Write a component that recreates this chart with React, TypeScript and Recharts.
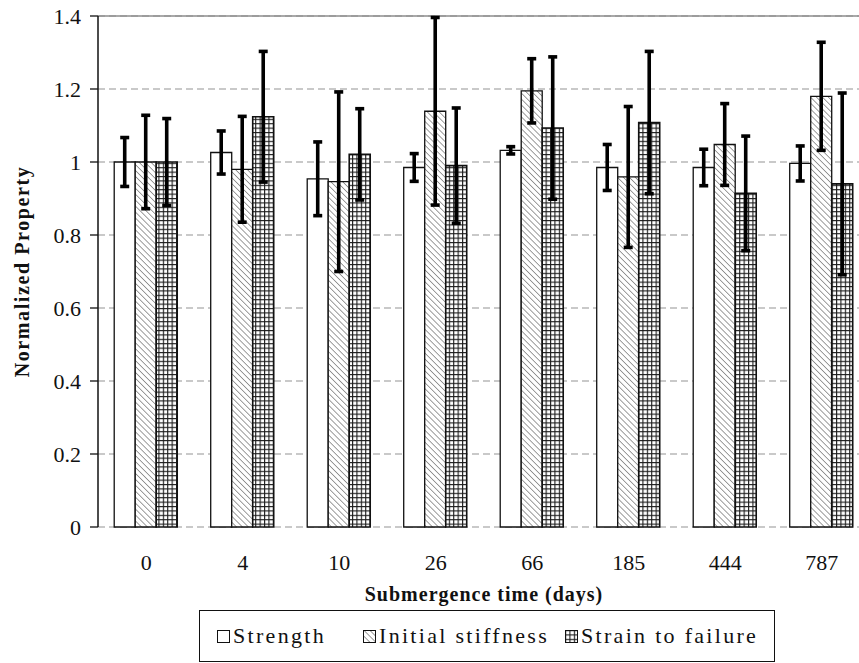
import {
  BarChart,
  Bar,
  XAxis,
  YAxis,
  CartesianGrid,
  ErrorBar,
  ReferenceLine,
  Legend,
  Label,
} from 'recharts'

const days = ['0', '4', '10', '26', '66', '185', '444', '787']
const strength = [1.0, 1.026, 0.954, 0.985, 1.032, 0.985, 0.985, 0.996]
const strengthErr = [0.067, 0.059, 0.101, 0.038, 0.01, 0.063, 0.05, 0.048]
const stiffness = [1.0, 0.98, 0.946, 1.139, 1.195, 0.959, 1.048, 1.18]
const stiffnessErr = [0.128, 0.145, 0.246, 0.257, 0.088, 0.193, 0.112, 0.148]
const strain = [1.0, 1.124, 1.021, 0.99, 1.093, 1.108, 0.914, 0.94]
const strainErr = [0.119, 0.179, 0.125, 0.158, 0.195, 0.195, 0.157, 0.249]
const yTicks = [0, 0.2, 0.4, 0.6, 0.8, 1, 1.2, 1.4]
const edgeTicks = [0, 1, 2, 3, 4, 5, 6, 7, 8]

const seriesNames = ['Strength', 'Initial stiffness', 'Strain to failure']

const data = days.map((day, i) => ({
  day,
  strength: strength[i],
  strengthErr: strengthErr[i],
  stiffness: stiffness[i],
  stiffnessErr: stiffnessErr[i],
  strain: strain[i],
  strainErr: strainErr[i],
}))

const serif = '"Liberation Serif", "Times New Roman", serif'
const ink = '#111'

function Patterns({ prefix }: { prefix: string }) {
  return (
    <defs>
      <pattern
        id={`${prefix}hatch`}
        patternUnits="userSpaceOnUse"
        width="4.2"
        height="4.2"
        patternTransform="rotate(-45)"
      >
        <rect width="4.2" height="4.2" fill="#fff" />
        <line x1="0" y1="0" x2="0" y2="4.2" stroke="#6a6a6a" strokeWidth="1.3" />
      </pattern>
      <pattern id={`${prefix}grid`} patternUnits="userSpaceOnUse" width="4.4" height="4.4">
        <rect width="4.4" height="4.4" fill="#fff" />
        <path d="M0 0.5 H4.4 M0.5 0 V4.4" stroke="#1a1a1a" strokeWidth="1.2" />
      </pattern>
    </defs>
  )
}

function YTitle(props: any) {
  const vb = props.viewBox || {}
  const cy = (vb.y ?? 16) + (vb.height ?? 511) / 2
  return (
    <text
      x={29}
      y={cy}
      transform={`rotate(-90, 29, ${cy})`}
      textAnchor="middle"
      fontFamily={serif}
      fontWeight="bold"
      fontSize={20}
      letterSpacing={1.6}
      fill={ink}
    >
      Normalized Property
    </text>
  )
}

function XTitle(props: any) {
  const vb = props.viewBox || {}
  const cx = (vb.x ?? 98) + (vb.width ?? 772) / 2
  return (
    <text
      x={cx}
      y={601}
      textAnchor="middle"
      fontFamily={serif}
      fontWeight="bold"
      fontSize={20}
      letterSpacing={1}
      fill={ink}
    >
      Submergence time (days)
    </text>
  )
}

function LegendBox() {
  const fills = ['#fff', 'url(#lghatch)', 'url(#lggrid)']
  const widths = [146, 202, undefined]
  return (
    <div
      style={{
        boxSizing: 'border-box',
        width: 576,
        height: 52,
        border: `1.5px solid ${ink}`,
        background: '#fff',
        display: 'flex',
        alignItems: 'center',
        paddingLeft: 17,
        fontFamily: serif,
        fontSize: 22,
        letterSpacing: 2.3,
        color: ink,
      }}
    >
      <svg width={0} height={0} style={{ position: 'absolute' }}>
        <Patterns prefix="lg" />
      </svg>
      {seriesNames.map((name, i) => (
        <div
          key={name}
          style={{ display: 'flex', alignItems: 'center', width: widths[i], whiteSpace: 'nowrap' }}
        >
          <svg width={13} height={13} style={{ marginRight: 3 }}>
            <rect x={0.5} y={0.5} width={12} height={12} fill={fills[i]} stroke={ink} strokeWidth={1} />
          </svg>
          <span>{name}</span>
        </div>
      ))}
    </div>
  )
}

export default function App() {
  return (
    <div
      style={{
        position: 'absolute',
        left: 0,
        top: 0,
        width: 859,
        height: 663,
        overflow: 'hidden',
        background: '#fff',
      }}
    >
      <BarChart
        width={880}
        height={663}
        data={data}
        margin={{ top: 16, right: 10, left: 0, bottom: 0 }}
        barCategoryGap="16.8%"
        barGap={0}
      >
        <Patterns prefix="ch" />
        <CartesianGrid vertical={false} stroke="#b8b8b8" strokeWidth={1.3} strokeDasharray="7 4" />
        <XAxis
          xAxisId="edge"
          type="number"
          domain={[0, 8]}
          ticks={edgeTicks}
          allowDataOverflow
          tickFormatter={() => ''}
          tickSize={8}
          height={0}
          axisLine={{ stroke: ink, strokeWidth: 1.5 }}
          tickLine={{ stroke: ink, strokeWidth: 1.3 }}
        />
        <XAxis
          dataKey="day"
          height={136}
          axisLine={false}
          tickLine={false}
          tickSize={0}
          tickMargin={27}
          tick={{ fill: ink, fontSize: 22, fontFamily: serif }}
        >
          <Label content={XTitle} />
        </XAxis>
        <YAxis
          domain={[0, 1.4]}
          ticks={yTicks}
          width={98}
          tickSize={8}
          tickMargin={9}
          axisLine={{ stroke: ink, strokeWidth: 1.5 }}
          tickLine={{ stroke: ink, strokeWidth: 1.3 }}
          tick={{ fill: ink, fontSize: 22, fontFamily: serif }}
        >
          <Label content={YTitle} />
        </YAxis>
        <ReferenceLine y={1.4} stroke="#8c8c8c" strokeWidth={1.6} />
        <Legend
          layout="horizontal"
          verticalAlign="middle"
          align="center"
          wrapperStyle={{ top: 610, left: 199, width: 576, height: 52 }}
          content={() => <LegendBox />}
        />
        <Bar
          name={seriesNames[0]}
          dataKey="strength"
          fill="#fff"
          stroke={ink}
          strokeWidth={1.3}
          isAnimationActive={false}
        >
          <ErrorBar dataKey="strengthErr" width={4.5} strokeWidth={3.6} stroke="#000" direction="y" isAnimationActive={false} />
        </Bar>
        <Bar
          name={seriesNames[1]}
          dataKey="stiffness"
          fill="url(#chhatch)"
          stroke={ink}
          strokeWidth={1.3}
          isAnimationActive={false}
        >
          <ErrorBar dataKey="stiffnessErr" width={4.5} strokeWidth={3.6} stroke="#000" direction="y" isAnimationActive={false} />
        </Bar>
        <Bar
          name={seriesNames[2]}
          dataKey="strain"
          fill="url(#chgrid)"
          stroke={ink}
          strokeWidth={1.6}
          isAnimationActive={false}
        >
          <ErrorBar dataKey="strainErr" width={4.5} strokeWidth={3.6} stroke="#000" direction="y" isAnimationActive={false} />
        </Bar>
      </BarChart>
    </div>
  )
}
